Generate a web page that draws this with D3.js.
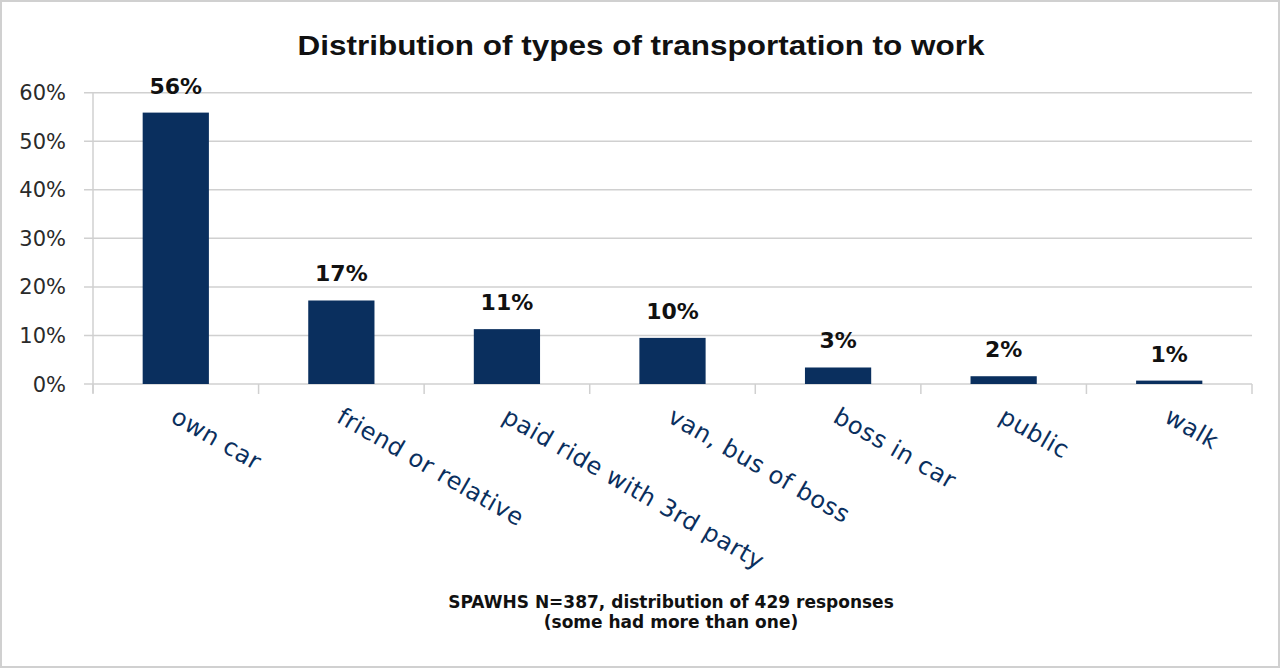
<!DOCTYPE html>
<html><head><meta charset="utf-8">
<script src="https://cdn.jsdelivr.net/npm/d3@7"></script>
<style>body{margin:0;background:#fff}svg{display:block}</style>
</head><body>
<script>
const categories = ["own car","friend or relative","paid ride with 3rd party","van, bus of boss","boss in car","public","walk"];
const values = [0.559, 0.172, 0.113, 0.095, 0.034, 0.016, 0.007];
const valueLabels = ["56%","17%","11%","10%","3%","2%","1%"];
const yTicks = [0, 0.1, 0.2, 0.3, 0.4, 0.5, 0.6];
const title = "Distribution of types of transportation to work";
const subtitle = ["SPAWHS N=387, distribution of 429 responses","(some had more than one)"];

(function(){
const W = 1281, H = 669;
const svg = d3.select("body").append("svg").attr("width", W).attr("height", H);
svg.append("rect").attr("x",1).attr("y",1).attr("width",W-3).attr("height",H-3)
  .attr("fill","#fff").attr("stroke","#d0d0d0").attr("stroke-width",2);

const pl = 93, pr = 1252, pt = 92.7, pb = 384;
const x = d3.scaleBand().domain(categories).range([pl, pr]).paddingInner(0.6).paddingOuter(0.3);
const y = d3.scaleLinear().domain([0, 0.6]).range([pb, pt]);

svg.append("g").selectAll("line").data(yTicks).join("line")
  .attr("x1", pl - 9).attr("x2", pr)
  .attr("y1", d => y(d)).attr("y2", d => y(d))
  .attr("stroke", "#d0d0d0").attr("stroke-width", 1.5);
svg.append("line").attr("x1",pl).attr("x2",pl).attr("y1",pt).attr("y2",pb+9)
  .attr("stroke","#d0d0d0").attr("stroke-width",1.5);
const bounds = d3.range(categories.length + 1).map(i => pl + i * (pr - pl) / categories.length);
svg.append("g").selectAll("line").data(bounds).join("line")
  .attr("x1", d => d).attr("x2", d => d).attr("y1", pb).attr("y2", pb + 10)
  .attr("stroke", "#d0d0d0").attr("stroke-width", 1.5);

svg.append("g").selectAll("text").data(yTicks).join("text")
  .attr("x", 66).attr("y", d => y(d)).attr("dy", "0.36em")
  .attr("text-anchor", "end")
  .style("font-family", "'DejaVu Sans', sans-serif").style("font-size", "21px")
  .attr("fill", "#2a2a2a").text(d => d3.format(".0%")(d));

svg.append("g").selectAll("rect").data(values).join("rect")
  .attr("x", (d,i) => x(categories[i])).attr("width", x.bandwidth())
  .attr("y", d => y(d)).attr("height", d => pb - y(d))
  .attr("fill", "#0a2f5e");

svg.append("g").selectAll("text").data(values).join("text")
  .attr("x", (d,i) => x(categories[i]) + x.bandwidth()/2)
  .attr("y", d => y(d) - 19)
  .attr("text-anchor", "middle")
  .style("font-family", "'DejaVu Sans', sans-serif").style("font-size", "22px").style("font-weight", "bold")
  .attr("fill", "#111").text((d,i) => valueLabels[i]);

svg.append("g").selectAll("text").data(categories).join("text")
  .attr("transform", d => `translate(${x(d) + x.bandwidth()/2 - 2},${pb + 30}) rotate(30)`)
  .attr("dy", "0.35em")
  .attr("text-anchor", "start")
  .style("font-family", "'DejaVu Sans', sans-serif").style("font-size", "24px")
  .style("letter-spacing", "0.6px")
  .attr("fill", "#0a2f5e").text(d => d);

svg.append("text").attr("x", 641).attr("y", 55).attr("text-anchor", "middle")
  .attr("textLength", 687).attr("lengthAdjust", "spacingAndGlyphs")
  .style("font-family", "'Liberation Sans', Arial, sans-serif").style("font-size", "27px").style("font-weight", "bold")
  .attr("fill", "#111").text(title);

svg.append("g").selectAll("text").data(subtitle).join("text")
  .attr("x", 671).attr("y", (d,i) => 608 + i * 20).attr("text-anchor", "middle")
  .style("font-family", "'DejaVu Sans', sans-serif").style("font-size", "17px").style("font-weight", "bold")
  .attr("fill", "#111").text(d => d);
})();
</script>
</body></html>
